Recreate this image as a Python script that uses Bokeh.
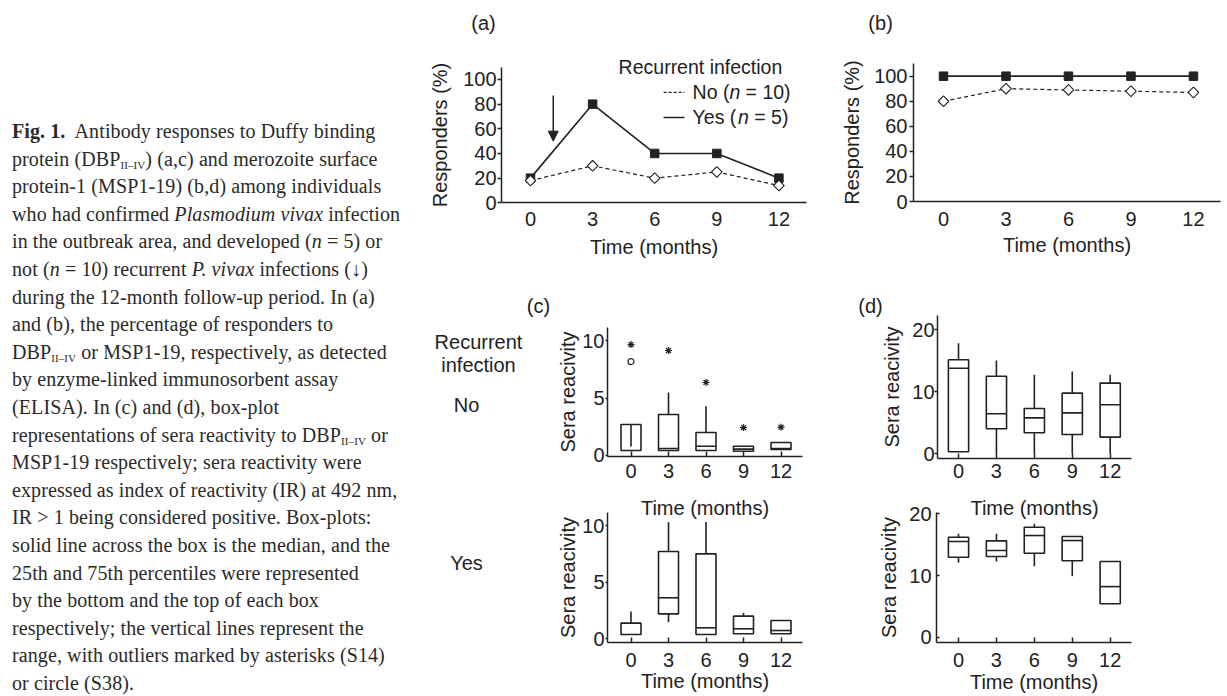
from bokeh.plotting import figure
from bokeh.models import (Div, Label, Arrow, NormalHead, Range1d, ColumnDataSource,
                          FixedTicker, LinearAxis)
from bokeh.layouts import row, column
from bokeh.embed import file_html
from bokeh.resources import INLINE
from bokeh.core.properties import value

# ---------------- data ----------------
months = [0, 3, 6, 9, 12]

# (a) DBP responders (%)
a_no = [18, 30, 20, 25, 14]
a_yes = [20, 80, 40, 40, 20]
# (b) MSP1-19 responders (%)
b_no = [80, 90, 89, 88, 87]
b_yes = [100, 100, 100, 100, 100]

# (c) DBP sera reactivity, no recurrent infection
c_no_q1 = [0.43, 0.43, 0.43, 0.37, 0.52]
c_no_q3 = [2.70, 3.57, 2.00, 0.81, 1.13]
c_no_med = [float("nan"), 0.61, 0.81, 0.55, 0.60]
c_no_lo = [0.43, 0.43, 0.43, 0.37, 0.52]
c_no_hi = [2.70, 5.48, 4.29, 0.81, 1.13]
c_no_inner_x = [0]
c_no_inner_y0 = [0.78]
c_no_inner_y1 = [2.70]
c_no_star_x = [0, 3, 6, 9, 12]
c_no_star_y = [9.65, 9.13, 6.35, 2.43, 2.46]
c_no_circ_x = [0]
c_no_circ_y = [8.17]

# (c) DBP sera reactivity, recurrent infection
c_yes_q1 = [0.38, 2.20, 0.38, 0.44, 0.44]
c_yes_q3 = [1.38, 7.70, 7.50, 2.00, 1.62]
c_yes_med = [float("nan"), 3.62, 0.97, 0.88, 0.73]
c_yes_lo = [0.38, 1.47, 0.38, 0.44, 0.44]
c_yes_hi = [2.41, 10.30, 10.30, 2.29, 1.62]

# (d) MSP1-19 sera reactivity, no recurrent infection
d_no_q1 = [0.32, 4.03, 3.39, 3.11, 2.69]
d_no_q3 = [15.16, 12.50, 7.30, 9.78, 11.40]
d_no_med = [13.80, 6.45, 5.80, 6.60, 7.90]
d_no_lo = [0.32, 0.0, 0.0, 0.0, 0.0]
d_no_hi = [17.84, 15.05, 12.74, 13.27, 12.74]

# (d) MSP1-19 sera reactivity, recurrent infection
d_yes_q1 = [12.97, 13.08, 13.60, 12.38, 5.41]
d_yes_q3 = [16.20, 15.62, 17.83, 16.32, 12.27]
d_yes_med = [15.50, 14.05, 16.48, 15.67, 8.20]
d_yes_lo = [12.06, 12.27, 11.50, 9.89, 5.41]
d_yes_hi = [16.76, 16.76, 18.38, 16.32, 12.27]

pct_ticks = [0, 20, 40, 60, 80, 100]
c_ticks = [0, 5, 10]
d_ticks = [0, 10, 20]

INK = "#222222"
SANS = "Liberation Sans"


def blank_fig(width, height, xr, yr, extra_y=None):
    kw = {}
    if extra_y is not None:
        kw["extra_y_ranges"] = {"yes": Range1d(*extra_y)}
    p = figure(width=width, height=height, x_range=Range1d(*xr), y_range=Range1d(*yr),
               output_backend="svg", toolbar_location=None,
               x_axis_location=None, y_axis_location=None,
               min_border_left=0, min_border_right=0, min_border_top=0, min_border_bottom=0,
               **kw)
    p.grid.visible = False
    p.outline_line_color = None
    return p


def style_axis(ax, tick_in, tick_out, label_standoff, title_standoff):
    ax.axis_line_color = INK
    ax.axis_line_width = 1.5
    ax.major_tick_line_color = INK
    ax.major_tick_line_width = 1.5
    ax.minor_tick_line_color = None
    ax.major_tick_in = tick_in
    ax.major_tick_out = tick_out
    ax.major_label_text_font = SANS
    ax.major_label_text_font_size = "20px"
    ax.major_label_text_color = INK
    ax.major_label_standoff = label_standoff
    ax.axis_label_text_font = SANS
    ax.axis_label_text_font_size = "20px"
    ax.axis_label_text_font_style = "normal"
    ax.axis_label_text_color = INK
    ax.axis_label_standoff = title_standoff


def add_axes(p, xfix, yfix, xbounds, ybounds, yticks, ylabel, xlabel, xstyle, ystyle,
             range_name="default"):
    xa = LinearAxis(ticker=FixedTicker(ticks=months), fixed_location=yfix, bounds=xbounds,
                    y_range_name=range_name, axis_label=xlabel)
    ya = LinearAxis(ticker=FixedTicker(ticks=yticks), fixed_location=xfix, bounds=ybounds,
                    y_range_name=range_name, axis_label=ylabel)
    style_axis(xa, *xstyle)
    style_axis(ya, *ystyle)
    p.add_layout(xa, "below")
    p.add_layout(ya, "left")


def add_label(p, x, y, text, size="20px", align="center", style="normal", x_offset=0,
              range_name="default"):
    p.add_layout(Label(x=x, y=y, text=text, text_font=SANS, text_font_size=size,
                       text_align=align, text_baseline="middle", text_color=INK,
                       text_font_style=style, x_offset=x_offset, y_range_name=range_name))


def draw_boxes(p, q1, q3, med, lo, hi, w=1.6, range_name="default"):
    half = w / 2
    src = ColumnDataSource(dict(x=months, q1=q1, q3=q3, med=med, lo=lo, hi=hi,
                                xl=[m - half for m in months], xr=[m + half for m in months]))
    p.vbar(x="x", width=w, bottom="q1", top="q3", source=src, y_range_name=range_name,
           fill_color=None, line_color=INK, line_width=1.6)
    p.segment(x0="xl", y0="med", x1="xr", y1="med", source=src, y_range_name=range_name,
              line_color=INK, line_width=1.6)
    p.segment(x0="x", y0="q3", x1="x", y1="hi", source=src, y_range_name=range_name,
              line_color=INK, line_width=1.6)
    p.segment(x0="x", y0="lo", x1="x", y1="q1", source=src, y_range_name=range_name,
              line_color=INK, line_width=1.6)


def draw_lines(p, yes, no):
    p.line(months, yes, line_color=INK, line_width=1.6)
    p.line(months, no, line_color=INK, line_width=1.2, line_dash="4 3")
    p.scatter(months, yes, marker="square", size=8.5, fill_color=INK, line_color=INK)
    p.scatter(months, no, marker="square", angle=0.785398, size=7.5, fill_color="white",
              line_color=INK, line_width=1.1)


# ---------------- (a) ----------------
pa = blank_fig(387, 290, (-5.072, 13.623), (-71.13, 164.07))
add_axes(pa, -1.40, 0, (-1.40, 13.33), (0, 109.9), pct_ticks, "Responders (%)", "Time (months)",
         (0, 0, 9, 7), (0, 4, 1, 9))
draw_lines(pa, a_yes, a_no)
pa.add_layout(Arrow(end=NormalHead(size=10, fill_color=INK, line_color=INK),
                    x_start=1.1, y_start=87, x_end=1.1, y_end=50,
                    line_color=INK, line_width=1.5))
# legend
pa.segment(x0=[6.43], y0=[89.5], x1=[7.44], y1=[89.5], line_color=INK, line_width=1.2,
           line_dash="3 2")
pa.segment(x0=[6.43], y0=[69.2], x1=[7.44], y1=[69.2], line_color=INK, line_width=1.6)
add_label(pa, 8.21, 110.5, "Recurrent infection", size="19.5px")
add_label(pa, 7.83, 89.5, "No (", size="19.5px", align="left")
add_label(pa, 7.83, 89.5, "n", size="19.5px", align="left", style="italic", x_offset=36.8)
add_label(pa, 7.83, 89.5, "= 10)", size="19.5px", align="left", x_offset=53.0)
add_label(pa, 7.83, 69.2, "Yes (", size="19.5px", align="left")
add_label(pa, 7.83, 69.2, "n", size="19.5px", align="left", style="italic", x_offset=45.5)
add_label(pa, 7.83, 69.2, "= 5)", size="19.5px", align="left", x_offset=61.7)
add_label(pa, -2.27, 146.2, "(a)")

# ---------------- (b) ----------------
pb = blank_fig(415, 290, (-6.289, 13.634), (-71.01, 160.38))
add_axes(pb, -1.44, 0, (-1.44, 13.3), (0, 110.1), pct_ticks, "Responders (%)", "Time (months)",
         (0, 0, 10, 5), (0, 4, 2, 8))
draw_lines(pb, b_yes, b_no)
add_label(pb, -3.02, 142.8, "(b)")

# ---------------- (c) ----------------
pc = blank_fig(397, 406, (-16.44, 15.32), (-20.957, 14.348), extra_y=(-5.093, 30.742))
add_axes(pc, -1.88, -0.09, (-1.88, 13.72), (-0.09, 11.13), c_ticks, "Sera reacivity",
         "Time (months)", (5, 0, 7, 16), (0, 2, 1, 0))
add_axes(pc, -1.88, -0.35, (-1.88, 13.72), (-0.35, 11.15), c_ticks, "Sera reacivity",
         "Time (months)", (5, 0, 10, 0), (0, 2, 1, 0), range_name="yes")
draw_boxes(pc, c_no_q1, c_no_q3, c_no_med, c_no_lo, c_no_hi)
pc.segment(x0=c_no_inner_x, y0=c_no_inner_y0, x1=c_no_inner_x, y1=c_no_inner_y1,
           line_color=INK, line_width=1.6)
pc.scatter(c_no_star_x, c_no_star_y, marker="asterisk", size=7, line_color=INK, line_width=1.2)
pc.scatter(c_no_circ_x, c_no_circ_y, marker="circle", size=6, fill_color="white",
           line_color=INK, line_width=1.2)
draw_boxes(pc, c_yes_q1, c_yes_q3, c_yes_med, c_yes_lo, c_yes_hi, range_name="yes")
add_label(pc, -7.4, 13.04, "(c)")
add_label(pc, -12.2, 9.83, "Recurrent")
add_label(pc, -12.2, 7.83, "infection")
add_label(pc, -13.16, 4.35, "No")
add_label(pc, -13.16, 6.65, "Yes", range_name="yes")

# ---------------- (d) ----------------
pd_ = blank_fig(405, 406, (-10.76, 21.28), (-39.15, 26.34), extra_y=(-9.61, 56.19))
add_axes(pd_, -1.66, -0.81, (-1.66, 13.69), (-0.81, 22.3), d_ticks, "Sera reacivity",
         "Time (months)", (5, 0, 5, 16), (0, 3, 0, 6))
add_axes(pd_, -1.74, -0.81, (-1.74, 13.69), (-0.81, 20.2), d_ticks, "Sera reacivity",
         "Time (months)", (5, 0, 11, 0), (3, 0, 5, 6), range_name="yes")
draw_boxes(pd_, d_no_q1, d_no_q3, d_no_med, d_no_lo, d_no_hi)
draw_boxes(pd_, d_yes_q1, d_yes_q3, d_yes_med, d_yes_lo, d_yes_hi, range_name="yes")
add_label(pd_, -6.96, 23.9, "(d)")

# ---------------- caption ----------------
SUB = '<sub style="font-size:11px;line-height:0;vertical-align:-3px;">II\u2013IV</sub>'
caption_lines = [
    '<b>Fig. 1.</b>&nbsp; Antibody responses to Duffy binding',
    'protein (DBP' + SUB + ') (a,c) and merozoite surface',
    'protein-1 (MSP1-19) (b,d) among individuals',
    'who had confirmed <i>Plasmodium vivax</i> infection',
    'in the outbreak area, and developed (<i>n</i> = 5) or',
    'not (<i>n</i> = 10) recurrent <i>P. vivax</i> infections (\u2193)',
    'during the 12-month follow-up period. In (a)',
    'and (b), the percentage of responders to',
    'DBP' + SUB + ' or MSP1-19, respectively, as detected',
    'by enzyme-linked immunosorbent assay',
    '(ELISA). In (c) and (d), box-plot',
    'representations of sera reactivity to DBP' + SUB + ' or',
    'MSP1-19 respectively; sera reactivity were',
    'expressed as index of reactivity (IR) at 492 nm,',
    'IR &gt; 1 being considered positive. Box-plots:',
    'solid line across the box is the median, and the',
    '25th and 75th percentiles were represented',
    'by the bottom and the top of each box',
    'respectively; the vertical lines represent the',
    'range, with outliers marked by asterisks (S14)',
    'or circle (S38).',
]
caption_html = ('<div style="font-family:\'Liberation Serif\';font-size:20px;line-height:27.6px;'
                'letter-spacing:0.1px;color:#2a2a2a;padding:118px 0 0 12px;white-space:nowrap;">'
                + '<br>'.join(caption_lines) + '</div>')
cap = Div(text=caption_html, width=425, height=696, margin=0)

right = column(row(pa, pb), row(pc, pd_))
layout = row(cap, right)

open("out.html", "w").write(file_html(layout, INLINE))
